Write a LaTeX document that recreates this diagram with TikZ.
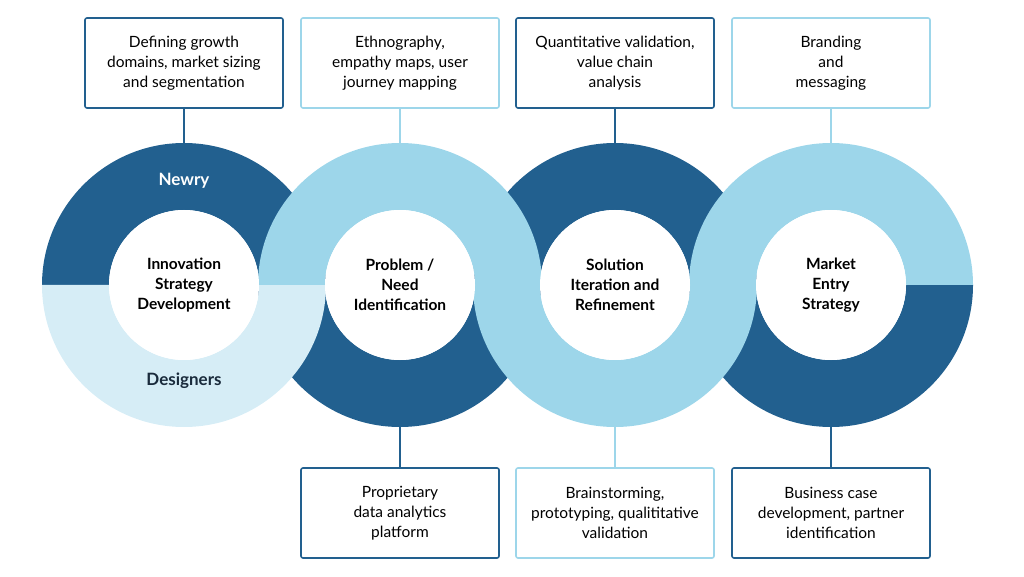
\documentclass[tikz,border=0pt]{standalone}
\usepackage{fontspec}
\setmainfont{Lato}
\begin{document}
\begin{tikzpicture}[x=1pt,y=1pt,
 box/.style={draw,line width=1.6pt,rounded corners=2pt,minimum width=198pt,minimum height=90pt,align=center,font=\fontsize{15.5}{20}\selectfont,fill=white},
 lab/.style={align=center,font=\fontsize{15.5}{20}\selectfont\bfseries},
 big/.style={font=\fontsize{17}{20}\selectfont\bfseries}]
\definecolor{dk}{HTML}{22608F}
\definecolor{lt}{HTML}{9DD6EA}
\definecolor{pl}{HTML}{D6EDF6}
\definecolor{tx}{HTML}{1A2B3C}
\useasboundingbox (0,0) rectangle (1024,576);
\def\ro{142}\def\ri{75}
% dark halves
\fill[dk] (184+\ro,291) arc(0:180:\ro) -- (184-\ri,291) arc(180:0:\ri) -- cycle;
\fill[dk] (400+\ro,291) arc(0:-180:\ro) -- (400-\ri,291) arc(-180:0:\ri) -- cycle;
\fill[dk] (615+\ro,291) arc(0:180:\ro) -- (615-\ri,291) arc(180:0:\ri) -- cycle;
\fill[dk] (831+\ro,291) arc(0:-180:\ro) -- (831-\ri,291) arc(-180:0:\ri) -- cycle;
% light halves
\fill[pl] (184+\ro,291) arc(0:-180:\ro) -- (184-\ri,291) arc(-180:0:\ri) -- cycle;
\fill[lt] (400+\ro,291) arc(0:180:\ro) -- (400-\ri,291) arc(180:0:\ri) -- cycle;
\fill[lt] (615+\ro,291) arc(0:-180:\ro) -- (615-\ri,291) arc(-180:0:\ri) -- cycle;
\fill[lt] (831+\ro,291) arc(0:180:\ro) -- (831-\ri,291) arc(180:0:\ri) -- cycle;
% holes
\foreach \x in {184,400,615,831} \fill[white] (\x,291) circle (\ri);
\node[lab] (c1) at (184,291) {Innovation\\Strategy\\Development};
\node[lab] (c2) at (400,291) {Problem /\\Need\\Identification};
\node[lab] (c3) at (615,291) {Solution\\Iteration and\\Refinement};
\node[lab] (c4) at (831,291) {Market\\Entry\\Strategy};
\node[big,text=white] (nw) at (184,395) {Newry};
\node[big,text=tx] (ds) at (184,195) {Designers};
% ring anchor coordinates
\coordinate (r1) at (184,433); \coordinate (r2) at (400,433);
\coordinate (r3) at (615,433); \coordinate (r4) at (831,433);
\coordinate (s2) at (400,149); \coordinate (s3) at (615,149); \coordinate (s4) at (831,149);
\node[box,draw=dk] (t1) at (184,513) {Defining growth\\domains, market sizing\\and segmentation};
\node[box,draw=lt] (t2) at (400,513) {Ethnography,\\empathy maps, user\\journey mapping};
\node[box,draw=dk] (t3) at (615,513) {Quantitative validation,\\value chain\\analysis};
\node[box,draw=lt] (t4) at (831,513) {Branding\\and\\messaging};
\node[box,draw=dk] (b2) at (400,63) {Proprietary\\data analytics\\platform};
\node[box,draw=lt] (b3) at (615,63) {Brainstorming,\\prototyping, qualititative\\validation};
\node[box,draw=dk] (b4) at (831,63) {Business case\\development, partner\\identification};
\draw[dk,line width=1.6pt] (t1) -- (r1);
\draw[lt,line width=1.6pt] (t2) -- (r2);
\draw[dk,line width=1.6pt] (t3) -- (r3);
\draw[lt,line width=1.6pt] (t4) -- (r4);
\draw[dk,line width=1.6pt] (b2) -- (s2);
\draw[lt,line width=1.6pt] (b3) -- (s3);
\draw[dk,line width=1.6pt] (b4) -- (s4);
\end{tikzpicture}
\end{document}
